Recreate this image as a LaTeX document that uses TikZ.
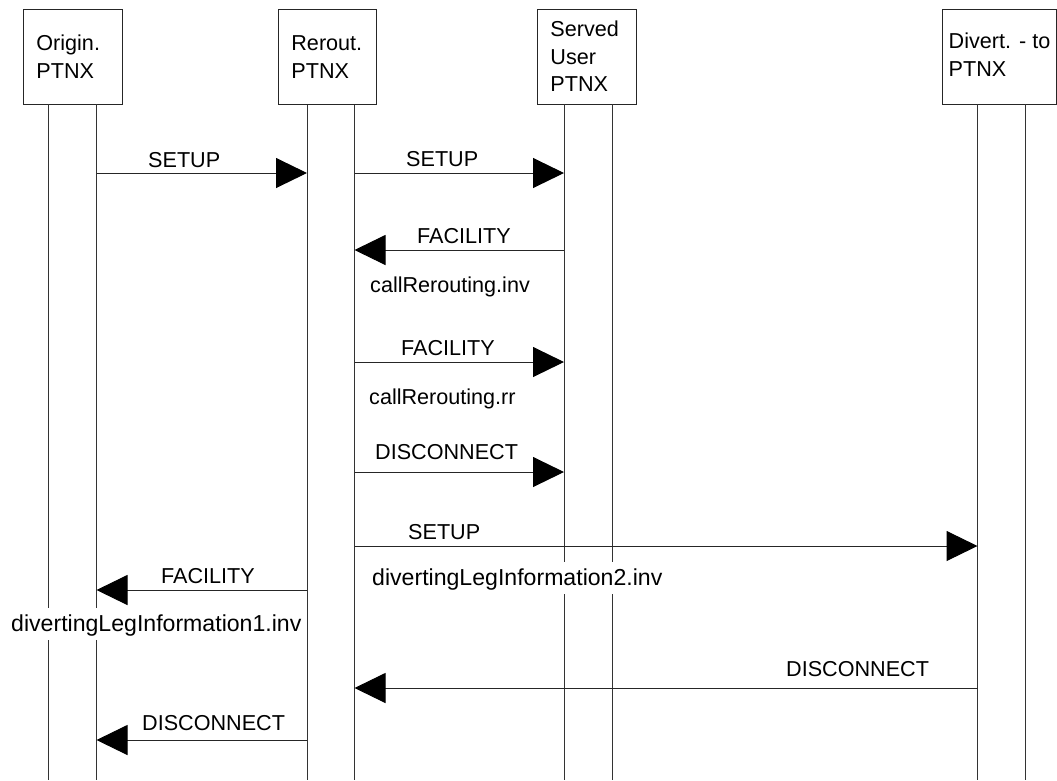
\documentclass[tikz,border=0pt]{standalone}
\usepackage{fontspec}
\setmainfont{Liberation Sans}
\usetikzlibrary{arrows.meta}

\begin{document}
\begin{tikzpicture}[x=1pt, y=-1pt,
  font=\fontsize{21.6}{27.5}\selectfont,
  pbox/.style={draw=black!85, line width=1pt, minimum width=99pt, minimum height=95pt, inner sep=0pt},
  ptxt/.style={anchor=west, align=left, inner sep=0pt},
  life/.style={draw=black!80, line width=1pt},
  msg/.style={draw=black!85, line width=1pt, -{Triangle[length=31pt,width=30pt,fill=black,color=black]}},
  lbl/.style={anchor=base west, inner sep=0pt},
  param/.style={anchor=base west, fill=white, inner xsep=1pt, inner ysep=0pt,
                font=\fontsize{23.1}{27.5}\selectfont,
                text height=23pt, text depth=9pt}
]
\useasboundingbox (0,0) rectangle (1057,780);

% exchange boxes
\node[pbox] (orig) at (72.5,56.5) {};
\node[ptxt] (origt) at ([xshift=13.7pt]orig.west) {Origin.\\PTNX};
\node[pbox, minimum width=98pt] (rer) at (327,57) {};
\node[ptxt] (rert) at ([xshift=13.7pt]rer.west) {Rerout.\\PTNX};
\node[pbox] (srv) at (586.5,56.5) {};
\node[ptxt] (srvt) at ([xshift=13.7pt]srv.west) {Served\\User\\PTNX};
\node[pbox, minimum width=114pt] (div) at (999,56.5) {};
\node[ptxt] (divt) at ([xshift=7pt,yshift=2pt]div.west) {Divert. - to\\PTNX};

% lifelines
\coordinate (bot) at (0,780);
\coordinate (o1) at (48.5,104);
\coordinate (o2) at (96.5,104);
\coordinate (r1) at (307,105);
\coordinate (r2) at (354.5,105);
\coordinate (s1) at (564,104);
\coordinate (s2) at (612,104);
\coordinate (d1) at (977.5,104);
\coordinate (d2) at (1025,104);
\foreach \l in {o1,o2,r1,r2,s1,s2,d1,d2}
  \draw[life] (\l) -- (\l |- bot);

% message rows
\coordinate (m1) at (0,173);
\coordinate (m3) at (0,250);
\coordinate (m4) at (0,362);
\coordinate (m5) at (0,472);
\coordinate (m6) at (0,546);
\coordinate (m7) at (0,590);
\coordinate (m8) at (0,688);
\coordinate (m9) at (0,740);

% messages
\draw[msg] (o2 |- m1) -- (r1 |- m1);
\draw[msg] (r2 |- m1) -- (s1 |- m1);
\draw[msg] (s1 |- m3) -- (r2 |- m3);
\draw[msg] (r2 |- m4) -- (s1 |- m4);
\draw[msg] (r2 |- m5) -- (s1 |- m5);
\draw[msg] (r2 |- m6) -- (d1 |- m6);
\draw[msg] (r1 |- m7) -- (o2 |- m7);
\draw[msg] (d1 |- m8) -- (r2 |- m8);
\draw[msg] (r1 |- m9) -- (o2 |- m9);

% message labels
\node[lbl] (l1) at (148,167) {SETUP};
\node[lbl] (l2) at (406,166) {SETUP};
\node[lbl] (l3) at (417,243) {FACILITY};
\node[lbl] (l3b) at (370,292) {callRerouting.inv};
\node[lbl] (l4) at (401,355) {FACILITY};
\node[lbl] (l4b) at (369,404) {callRerouting.rr};
\node[lbl] (l5) at (375,459) {DISCONNECT};
\node[lbl] (l6) at (408,539) {SETUP};
\node[param] (l6b) at (371,585) {divertingLegInformation2.inv};
\node[lbl] (l7) at (161,583) {FACILITY};
\node[param] (l7b) at (10,631) {divertingLegInformation1.inv};
\node[lbl] (l8) at (786,676) {DISCONNECT};
\node[lbl] (l9) at (142,730) {DISCONNECT};
\end{tikzpicture}
\end{document}
